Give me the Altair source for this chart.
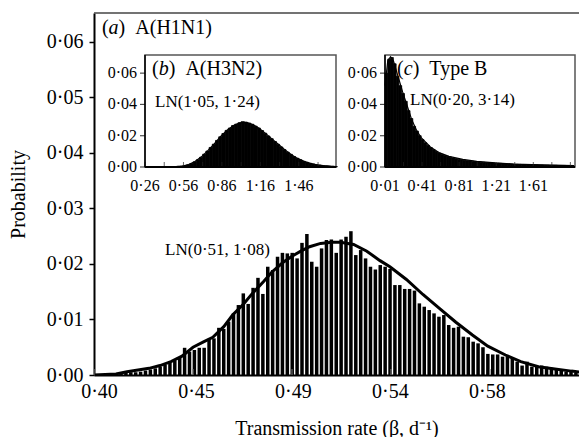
import altair as alt
import pandas as pd

FONT = "Liberation Serif"

# ---------------- panel (a) A(H1N1) : main histogram ----------------
main_x_domain = [0.40, 0.62045]
main_y_domain = [0.0, 0.0652]
main_x_ticks = [0.40, 0.445, 0.49, 0.535, 0.58]
main_x_labels = ["0·40", "0·45", "0·49", "0·54", "0·58"]
main_y_ticks = [0.0, 0.01, 0.02, 0.03, 0.04, 0.05, 0.06]
main_y_labels = ["0·00", "0·01", "0·02", "0·03", "0·04", "0·05", "0·06"]

main_bin_first = 0.40114
main_bin_step = 0.00227
main_probs = [
    0.0001, 0.0001, 0.0002, 0.0002, 0.0003, 0.0004, 0.0005, 0.0005, 0.0006, 0.0008,
    0.0010, 0.0012, 0.0015, 0.0018, 0.0022, 0.0026, 0.0031, 0.0049, 0.0042, 0.0045,
    0.0049, 0.0049, 0.0065, 0.0066, 0.0085, 0.0083, 0.0096, 0.0111, 0.0126, 0.0147,
    0.0128, 0.0157, 0.0175, 0.0146, 0.0195, 0.0189, 0.0213, 0.0220, 0.0219, 0.0220,
    0.0210, 0.0238, 0.0254, 0.0204, 0.0195, 0.0228, 0.0243, 0.0244, 0.0220, 0.0244,
    0.0249, 0.0259, 0.0216, 0.0225, 0.0210, 0.0195, 0.0190, 0.0198, 0.0195, 0.0191,
    0.0162, 0.0162, 0.0155, 0.0155, 0.0152, 0.0129, 0.0123, 0.0117, 0.0111, 0.0105,
    0.0108, 0.0090, 0.0085, 0.0087, 0.0069, 0.0068, 0.0060, 0.0057, 0.0050, 0.0038,
    0.0037, 0.0037, 0.0033, 0.0033, 0.0031, 0.0024, 0.0017, 0.0024, 0.0015, 0.0017,
    0.0017, 0.0015, 0.0013, 0.0009, 0.0008, 0.0006, 0.0006, 0.0004,
]
main_fit_x = [0.400, 0.405, 0.410, 0.415, 0.420, 0.425, 0.430, 0.435, 0.440, 0.445,
              0.450, 0.454, 0.459, 0.463, 0.468, 0.472, 0.477, 0.481, 0.486, 0.490,
              0.494, 0.498, 0.503, 0.508, 0.512, 0.518, 0.524, 0.530, 0.5345, 0.542,
              0.5495, 0.557, 0.5645, 0.572, 0.579, 0.587, 0.594, 0.602, 0.6095, 0.617, 0.624]
main_fit_y = [0.0000, 0.0001, 0.0002, 0.0006, 0.0009, 0.0012, 0.0017, 0.0024, 0.0034, 0.0050,
              0.0060, 0.0068, 0.0087, 0.0108, 0.0128, 0.0147, 0.0168, 0.0186, 0.0203, 0.0214,
              0.0223, 0.0231, 0.0237, 0.0239, 0.0239, 0.0235, 0.0223, 0.0206, 0.0195, 0.0172,
              0.0145, 0.0120, 0.0095, 0.0072, 0.0052, 0.0036, 0.0024, 0.0015, 0.0011, 0.0007, 0.0004]

# ---------------- panel (b) A(H3N2) ----------------
b_x_domain = [0.26, 1.75]
b_y_domain = [0.0, 0.0716]
b_x_ticks = [0.26, 0.56, 0.86, 1.16, 1.46]
b_x_labels = ["0·26", "0·56", "0·86", "1·16", "1·46"]
b_x_inner_ticks = [0.26, 0.41, 0.56, 0.71, 0.86, 1.01, 1.16, 1.31, 1.46, 1.61]
inset_y_ticks = [0.0, 0.02, 0.04, 0.06]
inset_y_labels = ["0·00", "0·02", "0·04", "0·06"]
b_bin_first = 0.26
b_bin_step = 0.025
b_probs = [
    0.0000, 0.0000, 0.0000, 0.0000, 0.0000, 0.0000, 0.0001, 0.0001, 0.0001, 0.0002,
    0.0004, 0.0006, 0.0009, 0.0014, 0.0022, 0.0033, 0.0046, 0.0062, 0.0082, 0.0102,
    0.0125, 0.0146, 0.0170, 0.0193, 0.0214, 0.0234, 0.0249, 0.0265, 0.0274, 0.0283,
    0.0290, 0.0286, 0.0281, 0.0273, 0.0261, 0.0249, 0.0233, 0.0216, 0.0198, 0.0181,
    0.0163, 0.0145, 0.0128, 0.0111, 0.0095, 0.0081, 0.0067, 0.0056, 0.0046, 0.0037,
    0.0030, 0.0024, 0.0019, 0.0015, 0.0012, 0.0009, 0.0007, 0.0006, 0.0004, 0.0003,
]
b_fit_x = [0.26, 0.40, 0.50, 0.55, 0.60, 0.65, 0.70, 0.75, 0.80, 0.85, 0.90, 0.95, 1.00,
           1.05, 1.10, 1.15, 1.20, 1.25, 1.30, 1.35, 1.40, 1.45, 1.50, 1.55, 1.60, 1.65, 1.70, 1.75]
b_fit_y = [0.0000, 0.0000, 0.0002, 0.0006, 0.0015, 0.0035, 0.0065, 0.0105, 0.0148, 0.0195,
           0.0235, 0.0265, 0.0282, 0.0285, 0.0272, 0.0248, 0.0215, 0.0180, 0.0145, 0.0110,
           0.0080, 0.0055, 0.0036, 0.0023, 0.0014, 0.0009, 0.0005, 0.0003]

# ---------------- panel (c) Type B ----------------
c_x_domain = [0.01, 2.06]
c_y_domain = [0.0, 0.0716]
c_x_ticks = [0.01, 0.41, 0.81, 1.21, 1.61]
c_x_labels = ["0·01", "0·41", "0·81", "1·21", "1·61"]
c_x_inner_ticks = [0.01, 0.21, 0.41, 0.61, 0.81, 1.01, 1.21, 1.41, 1.61, 1.81, 2.01]
c_bin_first = 0.01
c_bin_step = 0.03
c_probs = [
    0.0600, 0.0690, 0.0700, 0.0660, 0.0580, 0.0520, 0.0470, 0.0420, 0.0360, 0.0310,
    0.0260, 0.0230, 0.0200, 0.0175, 0.0155, 0.0138, 0.0124, 0.0111, 0.0099, 0.0089,
    0.0081, 0.0074, 0.0068, 0.0063, 0.0058, 0.0054, 0.0050, 0.0047, 0.0044, 0.0041,
    0.0039, 0.0037, 0.0035, 0.0033, 0.0031, 0.0030, 0.0028, 0.0027, 0.0026, 0.0025,
    0.0024, 0.0023, 0.0022, 0.0021, 0.0020, 0.0019, 0.0018, 0.0018, 0.0017, 0.0016,
    0.0016, 0.0015, 0.0015, 0.0014, 0.0014, 0.0013, 0.0013, 0.0012, 0.0012, 0.0011,
    0.0011, 0.0011, 0.0010, 0.0010, 0.0010, 0.0009, 0.0009, 0.0009,
]
c_fit_x = [0.01, 0.04, 0.07, 0.10, 0.15, 0.20, 0.25, 0.30, 0.35, 0.40, 0.50, 0.60, 0.70,
           0.85, 1.00, 1.20, 1.40, 1.60, 1.80, 2.05]
c_fit_y = [0.052, 0.068, 0.0705, 0.068, 0.058, 0.048, 0.039, 0.030, 0.0235, 0.0188, 0.0128,
           0.0090, 0.0068, 0.0049, 0.0036, 0.0026, 0.0019, 0.0015, 0.0012, 0.0009]

# ---------------- layout (pixels inside the main plot area) ----------------
W, H = 485, 362
b_x_range = [51, 242]
c_x_range = [291, 481]
inset_y_range = [154, 42]


def label_expr(ticks, labels):
    expr = "''"
    for t, s in reversed(list(zip(ticks, labels))):
        expr = "abs(datum.value - %r) < 1e-6 ? '%s' : (%s)" % (t, s, expr)
    return expr


def enc(xf, yf, xs, ys):
    return dict(x=alt.X(xf, scale=xs, axis=None), y=alt.Y(yf, scale=ys, axis=None))


def text_layer(x, y, text, xs, ys, size, dx=0, italic=False):
    d = pd.DataFrame({"tx": [x], "ty": [y], "t": [text]})
    return alt.Chart(d).mark_text(
        align="left", baseline="alphabetic", font=FONT, fontSize=size,
        fontStyle="italic" if italic else "normal", color="black", dx=dx
    ).encode(text="t:N", **enc("tx:Q", "ty:Q", xs, ys))


def panel_title(x, y, letter, rest, xs, ys, letter_w):
    return [
        text_layer(x, y, "(", xs, ys, 20),
        text_layer(x, y, letter, xs, ys, 20, dx=6.7, italic=True),
        text_layer(x, y, ")\u00a0\u00a0" + rest, xs, ys, 20, dx=6.7 + letter_w),
    ]


layers = []

# ---- main panel ----
mxs = alt.Scale(domain=main_x_domain, nice=False, zero=False)
mys = alt.Scale(domain=main_y_domain, nice=False, zero=False)

main_df = pd.DataFrame({
    "x": [round(main_bin_first + i * main_bin_step, 5) for i in range(len(main_probs))],
    "y": main_probs,
})
main_bars = alt.Chart(main_df).mark_bar(color="black", size=3.5, clip=True).encode(
    x=alt.X("x:Q", scale=mxs, axis=alt.Axis(
        values=main_x_ticks, labelExpr=label_expr(main_x_ticks, main_x_labels),
        labelFlush=False, labelOverlap=False, ticks=False, domainColor="black",
        domainWidth=2, labelFontSize=20, labelPadding=6,
        title="Transmission rate (β, d⁻¹)", titleFontSize=20, titlePadding=17)),
    y=alt.Y("y:Q", scale=mys, axis=alt.Axis(
        values=main_y_ticks, labelExpr=label_expr(main_y_ticks, main_y_labels),
        labelOverlap=False, labelFlush=False, tickSize=5, tickColor="black", tickWidth=1.5,
        domainColor="black", domainWidth=2, labelFontSize=20, labelPadding=6,
        title="Probability", titleFontSize=20, titlePadding=18)),
)
layers.append(main_bars)
layers.append(alt.Chart(pd.DataFrame({"x": main_fit_x, "y": main_fit_y})).mark_line(
    color="black", strokeWidth=3, clip=True).encode(**enc("x:Q", "y:Q", mxs, mys)))
layers.append(alt.Chart(pd.DataFrame({"x": main_x_ticks, "y": [0.0] * len(main_x_ticks)}))
              .mark_tick(orient="vertical", size=6, thickness=1.5, color="#777", yOffset=-3)
              .encode(**enc("x:Q", "y:Q", mxs, mys)))
layers.append(alt.Chart(pd.DataFrame({"x0": [main_x_domain[0]], "x1": [main_x_domain[1]],
                                      "y": [main_y_domain[1]]})).mark_rule(
    color="#444", strokeWidth=1.5).encode(x2="x1:Q", **enc("x0:Q", "y:Q", mxs, mys)))
layers += panel_title(0.4036, 0.0614, "a", "A(H1N1)", mxs, mys, 10)
layers.append(text_layer(0.4323, 0.0216, "LN(0·51, 1·08)", mxs, mys, 17))


def inset(first, step, probs, fit_x, fit_y, xdom, ydom, xrange, xticks, xlabels, inner,
          letter, letter_w, name, tx, ty, ln, lx, ly):
    xs = alt.Scale(domain=xdom, range=xrange, nice=False, zero=False)
    ys = alt.Scale(domain=ydom, range=inset_y_range, nice=False, zero=False)
    out = []
    # frame
    out.append(alt.Chart(pd.DataFrame({"x0": [xdom[0]], "x1": [xdom[1]],
                                       "y0": [ydom[0]], "y1": [ydom[1]]})).mark_rect(
        fill="white", stroke="#555", strokeWidth=1.5
    ).encode(x2="x1:Q", y2="y1:Q", **enc("x0:Q", "y0:Q", xs, ys)))
    # histogram
    df = pd.DataFrame({
        "x0": [round(first + i * step, 4) for i in range(len(probs))],
        "x1": [round(first + (i + 1) * step, 4) for i in range(len(probs))],
        "y": probs,
        "z": [0.0] * len(probs),
    })
    out.append(alt.Chart(df).mark_bar(color="black", stroke="black", strokeWidth=0.8).encode(
        x2="x1:Q", y2="z:Q", **enc("x0:Q", "y:Q", xs, ys)))
    # fitted curve
    out.append(alt.Chart(pd.DataFrame({"x0": fit_x, "y": fit_y})).mark_line(
        color="black", strokeWidth=1.2).encode(**enc("x0:Q", "y:Q", xs, ys)))
    # inward x ticks
    out.append(alt.Chart(pd.DataFrame({"x0": inner, "y": [0.0] * len(inner)}))
               .mark_tick(orient="vertical", size=5, thickness=1, color="#222", yOffset=-2.5)
               .encode(**enc("x0:Q", "y:Q", xs, ys)))
    # axis lines
    out.append(alt.Chart(pd.DataFrame({"x0": [xdom[0]], "x1": [xdom[1]], "y": [0.0]}))
               .mark_rule(color="black", strokeWidth=1.8)
               .encode(x2="x1:Q", **enc("x0:Q", "y:Q", xs, ys)))
    out.append(alt.Chart(pd.DataFrame({"x0": [xdom[0]], "y0": [ydom[0]], "y1": [ydom[1]]}))
               .mark_rule(color="black", strokeWidth=1.5)
               .encode(y2="y1:Q", **enc("x0:Q", "y0:Q", xs, ys)))
    # y ticks and labels
    ydf = pd.DataFrame({"x0": [xdom[0]] * len(inset_y_ticks), "y": inset_y_ticks,
                        "t": inset_y_labels})
    out.append(alt.Chart(ydf).mark_tick(orient="horizontal", size=5, thickness=1.2,
                                        color="black", xOffset=-2.5)
               .encode(**enc("x0:Q", "y:Q", xs, ys)))
    out.append(alt.Chart(ydf).mark_text(align="right", baseline="middle", dx=-8,
                                        font=FONT, fontSize=16, color="black")
               .encode(text="t:N", **enc("x0:Q", "y:Q", xs, ys)))
    # x labels
    xdf = pd.DataFrame({"x0": xticks, "y": [0.0] * len(xticks), "t": xlabels})
    out.append(alt.Chart(xdf).mark_text(align="center", baseline="top", dy=11,
                                        font=FONT, fontSize=16, color="black")
               .encode(text="t:N", **enc("x0:Q", "y:Q", xs, ys)))
    out += panel_title(tx, ty, letter, name, xs, ys, letter_w)
    out.append(text_layer(lx, ly, ln, xs, ys, 17))
    return out


layers += inset(b_bin_first, b_bin_step, b_probs, b_fit_x, b_fit_y, b_x_domain, b_y_domain,
                b_x_range, b_x_ticks, b_x_labels, b_x_inner_ticks, "b", 10, "A(H3N2)",
                0.315, 0.0588, "LN(1·05, 1·24)", 0.338, 0.0383)
layers += inset(c_bin_first, c_bin_step, c_probs, c_fit_x, c_fit_y, c_x_domain, c_y_domain,
                c_x_range, c_x_ticks, c_x_labels, c_x_inner_ticks, "c", 8.9, "Type B",
                0.14, 0.0588, "LN(0·20, 3·14)", 0.28, 0.0396)

chart = alt.layer(*layers).resolve_scale(
    x="independent", y="independent"
).properties(
    width=W, height=H,
    autosize=alt.AutoSizeParams(type="none"),
    padding={"left": 86, "top": 5, "right": 0, "bottom": 64},
).configure_view(stroke=None).configure_axis(
    labelFont=FONT, titleFont=FONT, labelColor="black", titleColor="black",
    titleFontWeight="normal", grid=False,
)

chart.save("out.html", embed_options={"renderer": "svg", "actions": False})
